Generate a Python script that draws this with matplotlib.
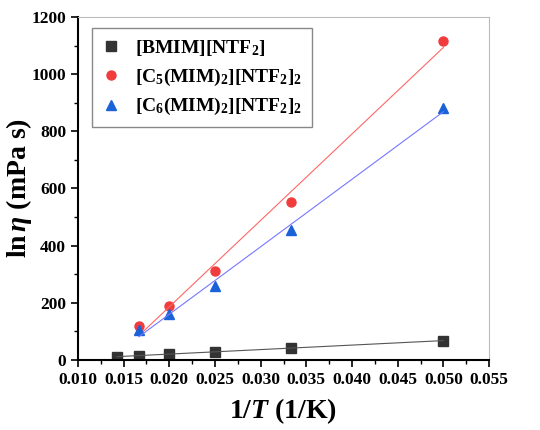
import numpy as np
import matplotlib
matplotlib.use('Agg')
import matplotlib.pyplot as plt

# data
inv_T_bmim = [1/70, 1/60, 1/50, 1/40, 1/30, 1/20]
eta_bmim = [11, 15, 21, 29, 43, 67]

inv_T_ils = [1/60, 1/50, 1/40, 1/30, 1/20]
eta_c5 = [120, 189, 311, 554, 1117]
eta_c6 = [105, 160, 260, 455, 883]

labels = [r'[BMIM][NTF$_2$]',
          r'[C$_5$(MIM)$_2$][NTF$_2$]$_2$',
          r'[C$_6$(MIM)$_2$][NTF$_2$]$_2$']

plt.rcParams['font.family'] = ['Liberation Serif', 'DejaVu Serif']
plt.rcParams['font.weight'] = 'bold'
plt.rcParams['mathtext.fontset'] = 'custom'
plt.rcParams['mathtext.rm'] = 'Liberation Serif:bold'
plt.rcParams['mathtext.it'] = 'Liberation Serif:italic:bold'
plt.rcParams['mathtext.bf'] = 'Liberation Serif:bold'

fig = plt.figure(figsize=(5.4, 4.3), dpi=100)
ax = fig.add_axes([0.1444, 0.1628, 0.7612, 0.7977])

series = [
    (inv_T_bmim, eta_bmim, 's', '#333333', '#555555'),
    (inv_T_ils, eta_c5, 'o', '#f03c3c', '#ff6666'),
    (inv_T_ils, eta_c6, '^', '#1a62d8', '#7777ff'),
]
for (x, y, m, c, lc), lab in zip(series, labels):
    x = np.array(x)
    y = np.array(y)
    ax.plot(x, y, linestyle='none', marker=m, color=c, markersize=6.5, label=lab)
    # linear fit drawn between first and last point
    k, b = np.polyfit(x, y, 1)
    ax.plot([x.min(), x.max()], [k * x.min() + b, k * x.max() + b], color=lc, lw=0.8)

ax.set_xlim(0.010, 0.055)
ax.set_ylim(0, 1200)
ax.set_xticks(np.arange(0.010, 0.0551, 0.005))
ax.set_xticks(np.arange(0.0125, 0.055, 0.005), minor=True)
ax.set_yticks(np.arange(0, 1201, 200))
ax.set_yticks(np.arange(100, 1200, 200), minor=True)
ax.tick_params(axis='both', which='major', direction='out', length=5, width=1.2, labelsize=12.5)
ax.tick_params(axis='both', which='minor', direction='out', length=3, width=1.0)
for lbl in ax.get_xticklabels() + ax.get_yticklabels():
    lbl.set_fontweight('bold')

ax.spines['left'].set_linewidth(1.5)
ax.spines['bottom'].set_linewidth(1.5)
ax.spines['top'].set_color('#bbbbbb')
ax.spines['right'].set_color('#bbbbbb')

ax.set_xlabel(r'1/$T$ (1/K)', fontsize=20, fontweight='bold', labelpad=6)
ax.set_ylabel(r'ln$\,\eta$ (mPa s)', fontsize=20, fontweight='bold')
ax.yaxis.set_label_coords(-0.107, 0.5)

leg = ax.legend(loc='upper left', bbox_to_anchor=(0.034, 0.968), fontsize=14,
                fancybox=False, edgecolor='#888888', framealpha=1,
                handletextpad=0.7, handlelength=1.0, borderpad=0.5,
                labelspacing=0.45, borderaxespad=0)
leg.get_frame().set_linewidth(1.0)

fig.savefig('out.png', dpi=100)
